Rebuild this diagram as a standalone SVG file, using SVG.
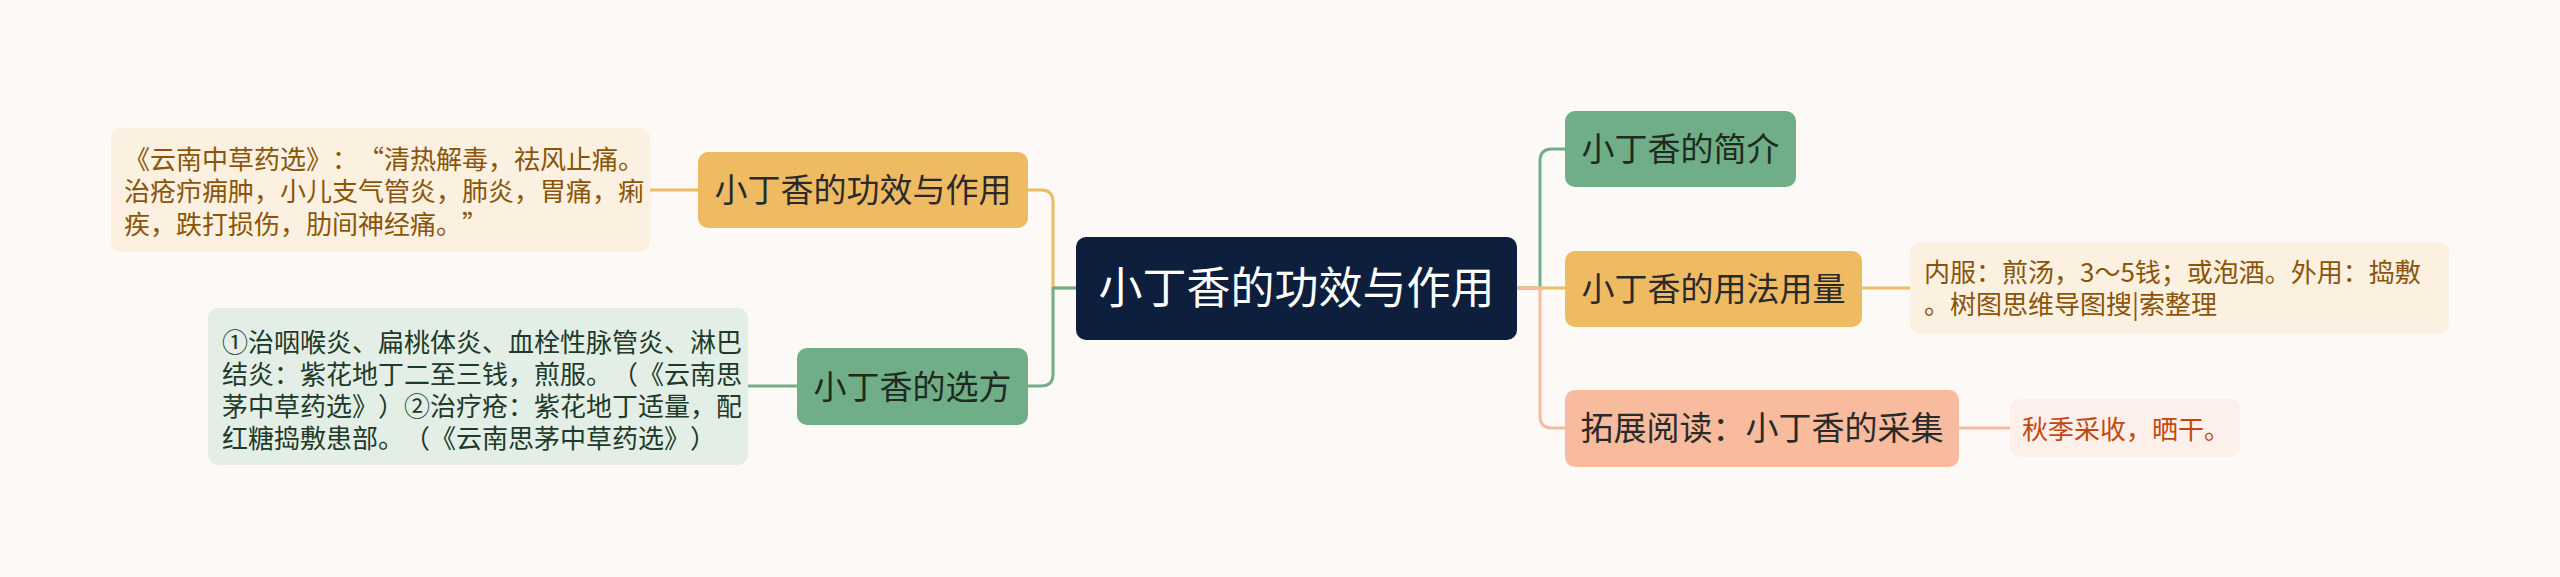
<svg xmlns="http://www.w3.org/2000/svg" width="2560" height="577" viewBox="0 0 2560 577">
<style>
text{font-family:"Noto Sans CJK SC","Noto Sans",sans-serif;text-spacing-trim:space-all;font-feature-settings:"halt" 0,"chws" 0;}
.t{font-size:33px;fill:#2a2a2a;text-anchor:middle;}
.n{font-size:26px;}
.c{fill:none;stroke-width:3;stroke-linecap:round;stroke-linejoin:round;}
.cg{stroke:#6fae86;} .co{stroke:#efbb62;} .cs{stroke:#f8bb9d;}
</style>
<rect x="0" y="0" width="2560" height="577" fill="#fdf9f7"/>
<g id="connectors">
<path class="c co" d="M1076,288 H1053 V202 Q1053,190 1041,190 H1028"/>
<path class="c co" d="M650,190 H698"/>
<path class="c cg" d="M1076,288 H1053 V374 Q1053,386 1041,386 H1028"/>
<path class="c cg" d="M748,386 H797"/>
<path class="c cg" d="M1517,288 H1540 V161 Q1540,149 1552,149 H1565"/>
<path class="c co" d="M1517,288 H1565"/>
<path class="c co" d="M1862,288 H1910"/>
<path class="c cs" d="M1517,288 H1540 V416 Q1540,428 1552,428 H1565"/>
<path class="c cs" d="M1959,428 H2010"/>
</g>
<g id="central">
<rect x="1076" y="237" width="441" height="103" rx="10" fill="#0d1f3c"/>
<text x="1296.5" y="304" style="font-size:44px;fill:#ffffff;text-anchor:middle;">小丁香的功效与作用</text>
</g>
<g id="node-gongxiao">
<rect x="698" y="152" width="330" height="76" rx="10" fill="#efbb62"/>
<text class="t" x="863" y="202">小丁香的功效与作用</text>
</g>
<g id="note-gongxiao">
<rect x="111" y="128" width="539" height="124" rx="10" fill="#fcf0e0"/>
<text class="n" fill="#8a5508"><tspan x="124" y="168.5">《云南中草药选》：“清热解毒，祛风止痛。</tspan><tspan x="124" y="201">治疮疖痈肿，小儿支气管炎，肺炎，胃痛，痢</tspan><tspan x="124" y="233.5">疾，跌打损伤，肋间神经痛。”</tspan></text>
</g>
<g id="node-xuanfang">
<rect x="797" y="348" width="231" height="77" rx="10" fill="#6fae86"/>
<text class="t" x="912.5" y="398.5" style="fill:#1f2a22">小丁香的选方</text>
</g>
<g id="note-xuanfang">
<rect x="208" y="308" width="540" height="157" rx="10" fill="#e2eee6"/>
<text class="n" fill="#1e3a28"><tspan x="222" y="351.5">①治咽喉炎、扁桃体炎、血栓性脉管炎、淋巴</tspan><tspan x="222" y="383.5">结炎：紫花地丁二至三钱，煎服。（《云南思</tspan><tspan x="222" y="415.5">茅中草药选》）②治疗疮：紫花地丁适量，配</tspan><tspan x="222" y="447.5">红糖捣敷患部。（《云南思茅中草药选》）</tspan></text>
</g>
<g id="node-jianjie">
<rect x="1565" y="111" width="231" height="76" rx="10" fill="#6fae86"/>
<text class="t" x="1680.5" y="161" style="fill:#1f2a22">小丁香的简介</text>
</g>
<g id="node-yongfa">
<rect x="1565" y="251" width="297" height="76" rx="10" fill="#efbb62"/>
<text class="t" x="1713.5" y="300.5">小丁香的用法用量</text>
</g>
<g id="note-yongfa">
<rect x="1910" y="242" width="539" height="92" rx="10" fill="#fcf0e0"/>
<text class="n" fill="#8a5508"><tspan x="1924" y="281.5">内服：煎汤，3～5钱；或泡酒。外用：捣敷</tspan><tspan x="1924" y="313.5">。树图思维导图搜|索整理</tspan></text>
</g>
<g id="node-tuozhan">
<rect x="1565" y="390" width="394" height="77" rx="10" fill="#f8bb9d"/>
<text class="t" x="1762" y="440">拓展阅读：小丁香的采集</text>
</g>
<g id="note-tuozhan">
<rect x="2010" y="399" width="230" height="58" rx="10" fill="#fdf0ea"/>
<text class="n" x="2022" y="438.5" fill="#c4470f">秋季采收，晒干。</text>
</g>
</svg>
